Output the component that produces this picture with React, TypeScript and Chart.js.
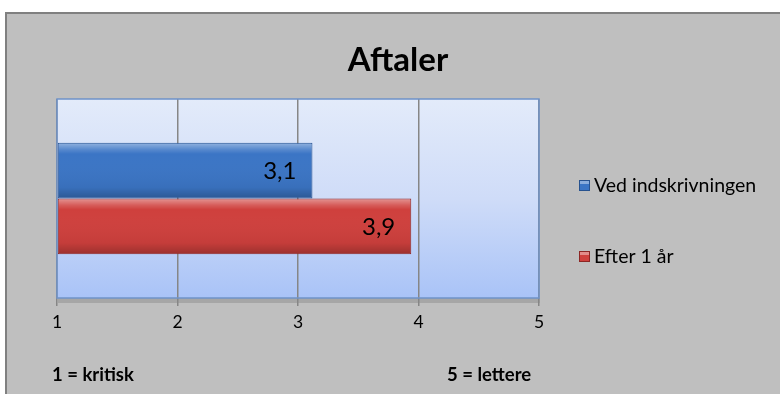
import React, { useEffect, useRef } from "react";
import { Chart, registerables } from "chart.js";

Chart.register(...registerables);

const categories = ["Aftaler"];
const seriesNames = ["Ved indskrivningen", "Efter 1 år"];
const vedValues = [3.12];
const efterValues = [3.94];
const tickValues = [1, 2, 3, 4, 5];
const leftNote = "1 = kritisk";
const rightNote = "5 = lettere";
const titleText = "Aftaler";

const FONT = "Lato, 'Open Sans', 'DejaVu Sans', sans-serif";

const decorPlugin = {
  id: "decor",
  beforeDraw(chart: any) {
    const { ctx, chartArea } = chart;
    ctx.save();
    ctx.fillStyle = "#ffffff";
    ctx.fillRect(0, 0, chart.width, chart.height);
    ctx.fillStyle = "#bfbfbf";
    ctx.fillRect(6, 13, chart.width, chart.height);
    ctx.strokeStyle = "#808080";
    ctx.lineWidth = 2;
    ctx.strokeRect(6, 13, chart.width + 10, chart.height + 10);
    ctx.fillStyle = "rgba(120,120,120,0.35)";
    ctx.fillRect(chartArea.left + 1, chartArea.bottom, chartArea.width, 5);
    const g = ctx.createLinearGradient(0, chartArea.top, 0, chartArea.bottom);
    g.addColorStop(0, "#e3ebfa");
    g.addColorStop(0.5, "#cfdcf8");
    g.addColorStop(1, "#a9c3f7");
    ctx.fillStyle = g;
    ctx.fillRect(chartArea.left, chartArea.top, chartArea.width, chartArea.height);
    ctx.restore();
  },
  afterDatasetsDraw(chart: any) {
    const { ctx, chartArea } = chart;
    ctx.save();
    chart.data.datasets.forEach((ds: any, i: number) => {
      const meta = chart.getDatasetMeta(i);
      meta.data.forEach((el: any) => {
        const top = el.y - el.height / 2;
        const bot = el.y + el.height / 2;
        const left = Math.min(el.x, el.base);
        const w = Math.abs(el.x - el.base);
        const g = ctx.createLinearGradient(0, top, 0, bot);
        g.addColorStop(0, "rgba(255,255,255,0.45)");
        g.addColorStop(0.12, "rgba(255,255,255,0.15)");
        g.addColorStop(0.2, "rgba(255,255,255,0)");
        g.addColorStop(0.8, "rgba(0,0,0,0.05)");
        g.addColorStop(1, "rgba(0,0,0,0.25)");
        ctx.fillStyle = g;
        ctx.fillRect(left + 1, top + 1, w - 2, el.height - 2);
      });
    });
    ctx.strokeStyle = "#6f93c9";
    ctx.lineWidth = 1.5;
    ctx.strokeRect(chartArea.left, chartArea.top, chartArea.width, chartArea.height);
    ctx.fillStyle = "#000";
    ctx.font = `24px ${FONT}`;
    ctx.textAlign = "right";
    ctx.textBaseline = "middle";
    chart.data.datasets.forEach((ds: any, i: number) => {
      const meta = chart.getDatasetMeta(i);
      meta.data.forEach((el: any, j: number) => {
        const v = ds.data[j];
        ctx.fillText(v.toFixed(1).replace(".", ","), el.x - 16, el.y + 1);
      });
    });
    ctx.font = `bold 33px ${FONT}`;
    ctx.textAlign = "center";
    ctx.fillText(titleText, 398, 60);
    ctx.font = `bold 18.5px ${FONT}`;
    ctx.textAlign = "left";
    ctx.fillText(leftNote, 52, 375);
    ctx.fillText(rightNote, 447, 375);
    ctx.font = `19.5px ${FONT}`;
    const legendY = [186, 257];
    chart.data.datasets.forEach((ds: any, i: number) => {
      const y = legendY[i];
      ctx.fillStyle = ds.backgroundColor;
      ctx.fillRect(579, y - 6, 11, 11);
      ctx.strokeStyle = ds.borderColor;
      ctx.lineWidth = 1;
      ctx.strokeRect(579.5, y - 5.5, 10, 10);
      ctx.fillStyle = "rgba(255,255,255,0.4)";
      ctx.fillRect(580, y - 5, 9, 3);
      ctx.fillStyle = "#000";
      ctx.textAlign = "left";
      ctx.fillText(ds.label, 594, y);
    });
    ctx.restore();
  },
};

export default function App() {
  const ref = useRef<HTMLCanvasElement>(null);
  useEffect(() => {
    if (!ref.current) return;
    const chart = new Chart(ref.current, {
      type: "bar",
      data: {
        labels: categories,
        datasets: [
          {
            label: seriesNames[0],
            data: vedValues,
            backgroundColor: "#3b75c5",
            borderColor: "#27528f",
            borderWidth: 1,
            borderSkipped: false,
          },
          {
            label: seriesNames[1],
            data: efterValues,
            backgroundColor: "#cf403d",
            borderColor: "#8c2624",
            borderWidth: 1,
            borderSkipped: false,
          },
        ],
      },
      plugins: [decorPlugin],
      options: {
        indexAxis: "y",
        animation: false,
        responsive: false,
        layout: { padding: { left: 57, right: 241, top: 99, bottom: 55 } },
        datasets: { bar: { categoryPercentage: 0.56, barPercentage: 1, base: 1 } },
        plugins: { legend: { display: false }, tooltip: { enabled: false }, title: { display: false } },
        scales: {
          x: {
            type: "linear",
            min: 1,
            max: 5,
            afterBuildTicks: (axis: any) => {
              axis.ticks = tickValues.map((v) => ({ value: v }));
            },
            ticks: { color: "#000", font: { family: FONT, size: 17.5 }, padding: 6 },
            grid: { color: "#868686", lineWidth: 1.5, tickLength: 8 },
            border: { display: false },
          },
          y: { display: false },
        },
      } as any,
    });
    return () => chart.destroy();
  }, []);
  return (
    <div style={{ position: "fixed", left: 0, top: 0, width: 780, height: 394 }}>
      <canvas ref={ref} width={780} height={394} style={{ width: 780, height: 394 }} />
    </div>
  );
}
